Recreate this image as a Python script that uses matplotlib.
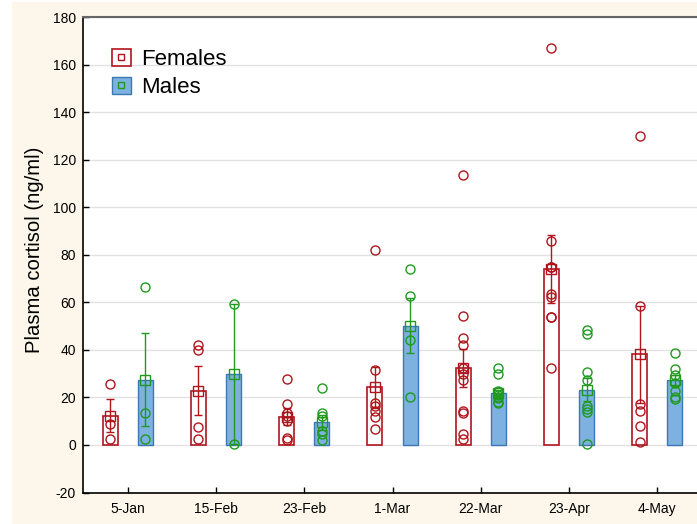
import matplotlib
matplotlib.use("Agg")
import matplotlib.pyplot as plt
import numpy as np
from matplotlib.patches import Patch, Rectangle
from matplotlib.lines import Line2D

plt.rcParams["font.family"] = ["Liberation Sans", "DejaVu Sans"]
plt.rcParams["axes.unicode_minus"] = False

dates = ["5-Jan", "15-Feb", "23-Feb", "1-Mar", "22-Mar", "23-Apr", "4-May"]

# group means and standard errors (ng/ml)
fem_mean = [12.4, 22.8, 11.9, 24.2, 32.3, 74.0, 38.1]
fem_se = [6.8, 10.3, 3.5, 8.5, 7.9, 14.4, 20.5]
mal_mean = [27.5, 29.9, 9.6, 50.2, 21.8, 23.2, 27.2]
mal_se = [19.6, 29.5, 3.2, 11.6, 1.4, 4.8, 2.2]

# individual samples per sampling date
fem_pts = [
    [25.6, 8.9, 2.6],
    [41.9, 39.8, 7.5, 2.6],
    [27.6, 17.2, 13.4, 12.0, 10.3, 3.0, 1.9],
    [81.9, 31.4, 17.6, 16.6, 14.2, 11.7, 6.8],
    [113.5, 54.2, 45.0, 41.9, 32.3, 29.7, 27.2, 14.2, 13.5, 4.7, 2.6],
    [167.2, 85.8, 74.9, 74.9, 63.7, 62.2, 53.8, 53.8, 32.2],
    [130.2, 58.6, 17.3, 14.5, 7.8, 1.3],
]
mal_pts = [
    [66.5, 13.4, 2.6],
    [59.4, 0.5],
    [23.9, 13.4, 12.4, 5.8, 4.7, 1.9],
    [73.9, 62.8, 44.0, 20.4],
    [32.3, 30.0, 22.6, 22.2, 21.0, 20.4, 19.8, 18.0, 17.5],
    [48.6, 46.8, 30.8, 27.4, 16.2, 15.2, 13.8, 0.4],
    [38.8, 32.1, 29.3, 26.0, 22.9, 20.1, 19.3],
]

RED = "#b0141c"
GREEN = "#1f9a1f"
BLUE_FILL = "#7cb1e0"
BLUE_EDGE = "#3b78b4"

fig = plt.figure(figsize=(6.97, 5.24), dpi=100, facecolor="white")
fig.patches.append(Rectangle((12 / 697, 0), 1 - 12 / 697, 1 - 2 / 524,
                             transform=fig.transFigure, fc="#fcf7ea", ec="none", zorder=-10))
ax = fig.add_axes([83 / 697, 1 - 492.5 / 524, 1 - 83 / 697, (492.5 - 17.3) / 524])
ax.set_facecolor("white")

x = np.arange(len(dates))
off, w = 0.2, 0.17
ax.bar(x - off, fem_mean, width=w, color="white", edgecolor=RED, linewidth=1.2, zorder=2)
ax.bar(x + off, mal_mean, width=w, color=BLUE_FILL, edgecolor=BLUE_EDGE, linewidth=1.0, zorder=2)

for i in range(len(dates)):
    ax.plot([x[i] - off] * len(fem_pts[i]), fem_pts[i], ls="", marker="o", ms=6.5,
            mfc="none", mec=RED, mew=1.0, zorder=4)
    ax.plot([x[i] + off] * len(mal_pts[i]), mal_pts[i], ls="", marker="o", ms=6.5,
            mfc="none", mec=GREEN, mew=1.0, zorder=4)

ax.errorbar(x - off, fem_mean, yerr=fem_se, fmt="s", ms=6.5, mfc="none", mec=RED, mew=1.0,
            ecolor=RED, elinewidth=1.0, capsize=2.6, capthick=1.0, zorder=5)
ax.errorbar(x + off, mal_mean, yerr=mal_se, fmt="s", ms=6.5, mfc="none", mec=GREEN, mew=1.0,
            ecolor=GREEN, elinewidth=1.0, capsize=2.6, capthick=1.0, zorder=5)

ax.set_xlim(-0.507, 6.45)
ax.set_ylim(-20, 180)
ax.set_yticks(np.arange(-20, 181, 20))
ax.set_xticks(x)
ax.set_xticklabels(dates)
ax.grid(axis="y", color="#e2e2e2", lw=1.0, zorder=0)
ax.set_axisbelow(True)
ax.tick_params(direction="in", length=4, labelsize=10, width=1.0)
ax.tick_params(axis="y", pad=5)
ax.tick_params(axis="x", pad=7)
ax.spines["right"].set_visible(False)
ax.spines["top"].set_color("#666666")
ax.spines["top"].set_linewidth(1.5)
ax.spines["left"].set_linewidth(1.2)
ax.spines["bottom"].set_linewidth(1.2)
ax.set_ylabel("Plasma cortisol (ng/ml)", fontsize=14.6)
ax.yaxis.set_label_coords(-0.064, 0.51)

handles = [
    (Patch(fc="white", ec=RED, lw=1.2),
     Line2D([], [], ls="", marker="s", ms=4, mfc="none", mec=RED, mew=1.0)),
    (Patch(fc=BLUE_FILL, ec=BLUE_EDGE, lw=1.0),
     Line2D([], [], ls="", marker="s", ms=4, mfc="none", mec=GREEN, mew=1.0)),
]
ax.legend(handles, ["Females", "Males"], loc="upper left", bbox_to_anchor=(0.047, 0.933),
          frameon=False, fontsize=16, handlelength=0.85, handleheight=0.8,
          handletextpad=0.45, labelspacing=0.3, borderpad=0, borderaxespad=0)

fig.savefig("out.png", dpi=100, facecolor=fig.get_facecolor())
